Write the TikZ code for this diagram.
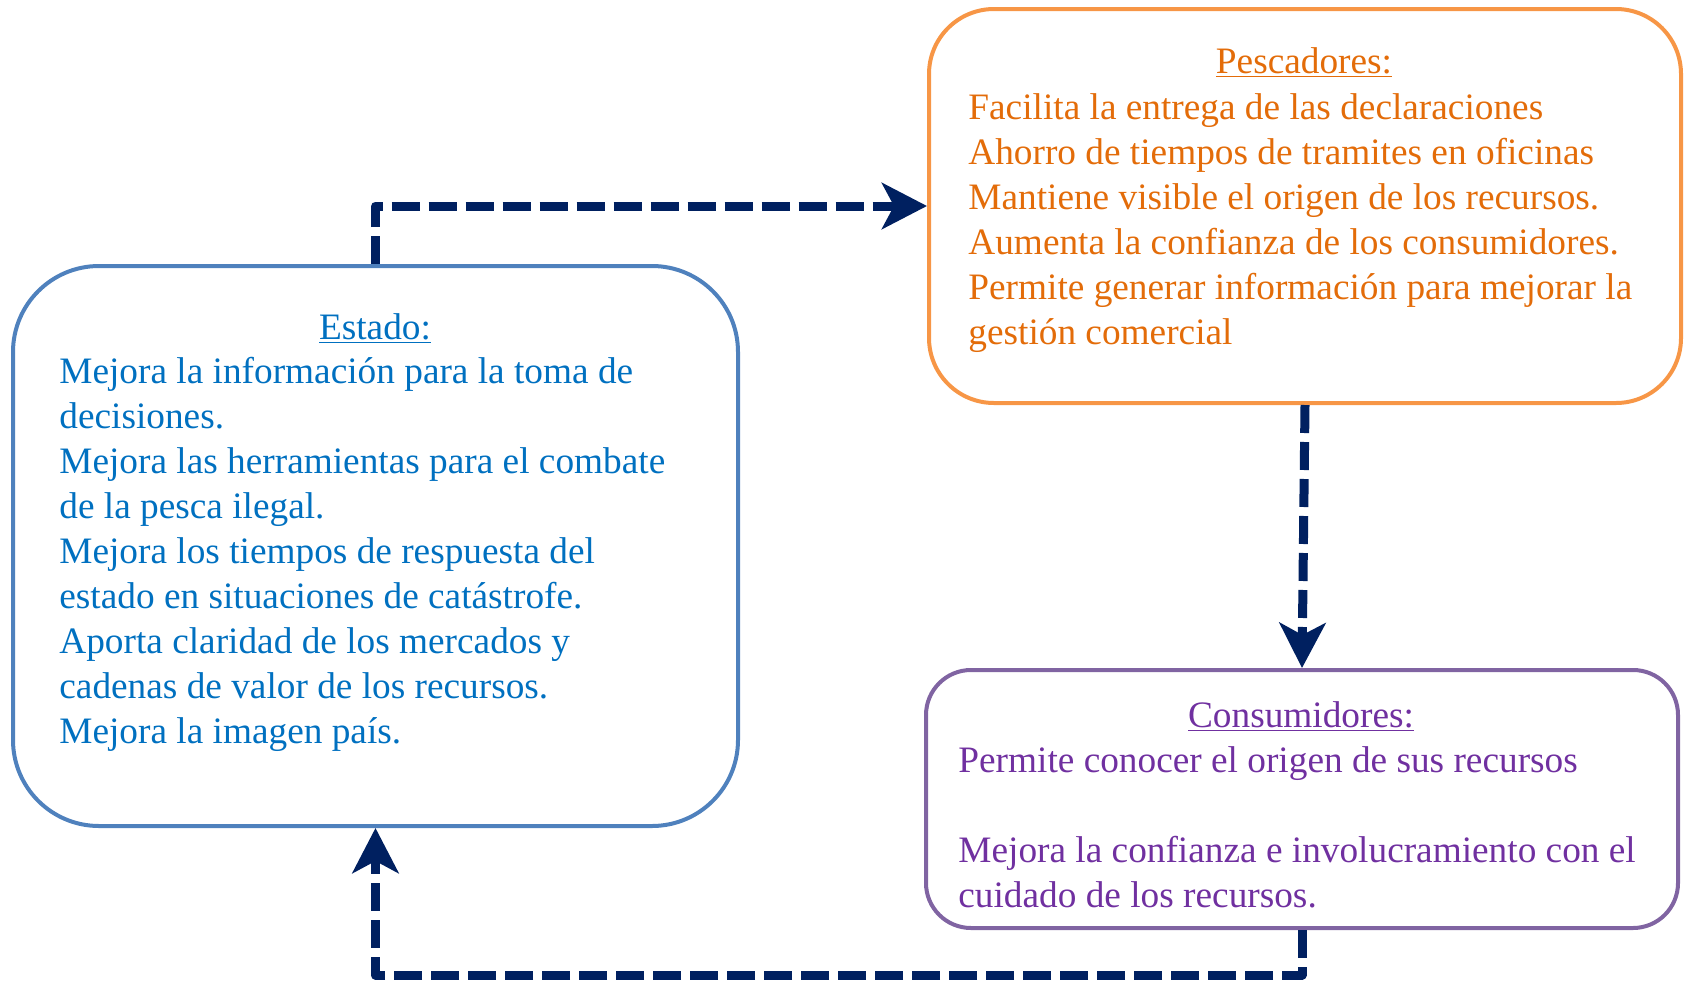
\documentclass[tikz,border=0pt]{standalone}
\usepackage{fontspec}
\setmainfont{Liberation Serif}
\usetikzlibrary{arrows.meta}
\definecolor{estB}{HTML}{4F81BD}
\definecolor{estT}{HTML}{0070C0}
\definecolor{pesB}{HTML}{F79646}
\definecolor{pesT}{HTML}{E36C09}
\definecolor{conB}{HTML}{8064A2}
\definecolor{conT}{HTML}{7030A0}
\definecolor{navy}{HTML}{002060}
\newcommand{\bodyfont}{\fontsize{18.65pt}{22.5pt}\selectfont}
\begin{document}
\begin{tikzpicture}[x=0.5pt,y=-0.5pt,
  box/.style={draw, line width=2pt, inner sep=0pt, outer sep=1pt},
  conn/.style={draw=navy, line width=4.5pt, dash pattern=on 14pt off 4.5pt,
    line join=round, -{Stealth[length=22.5pt,width=23pt,inset=6pt]}},
  ttl/.style={anchor=base, inner sep=0pt, font=\bodyfont},
  body/.style={anchor=base west, inner sep=0pt, font=\bodyfont}]
\useasboundingbox (0,0) rectangle (1686,980);
% boxes
\node[box, draw=estB, rounded corners=43pt, minimum width=362.5pt, minimum height=280pt] (estado) at (375.5,546) {};
\node[box, draw=pesB, rounded corners=32.5pt, minimum width=376pt, minimum height=197pt] (pesc) at (1305,206) {};
\node[box, draw=conB, rounded corners=22.5pt, minimum width=376pt, minimum height=129pt] (cons) at (1302,799) {};
% titles
\node[ttl, text=estT] (estadoT) at (375,339) {\underline{Estado:}};
\node[ttl, text=pesT] (pescT) at (1304,73) {\underline{Pescadores:}};
\node[ttl, text=conT] (consT) at (1301,727) {\underline{Consumidores:}};
% bodies
\node[body, text=estT] (estadoB) at (59,383) {\begin{tabular}[t]{@{}l@{}}
Mejora la información para la toma de\\
decisiones.\\
Mejora las herramientas para el combate\\
de la pesca ilegal.\\
Mejora los tiempos de respuesta del\\
estado en situaciones de catástrofe.\\
Aporta claridad de los mercados y\\
cadenas de valor de los recursos.\\
Mejora la imagen país.
\end{tabular}};
\node[body, text=pesT] (pescB) at (968,119) {\begin{tabular}[t]{@{}l@{}}
Facilita la entrega de las declaraciones\\
Ahorro de tiempos de tramites en oficinas\\
Mantiene visible el origen de los recursos.\\
Aumenta la confianza de los consumidores.\\
Permite generar información para mejorar la\\
gestión comercial
\end{tabular}};
\node[body, text=conT] (consB) at (958,772) {\begin{tabular}[t]{@{}l@{}}
Permite conocer el origen de sus recursos\\
\\
Mejora la confianza e involucramiento con el\\
cuidado de los recursos.
\end{tabular}};
% connectors
\coordinate (turn) at (1302,975);
\draw[conn] (estado.north) |- (pesc.west);
\draw[conn] (pesc.south) -- (cons.north);
\draw[conn] (cons.south) -- (turn) -| (estado.south);
\end{tikzpicture}
\end{document}
